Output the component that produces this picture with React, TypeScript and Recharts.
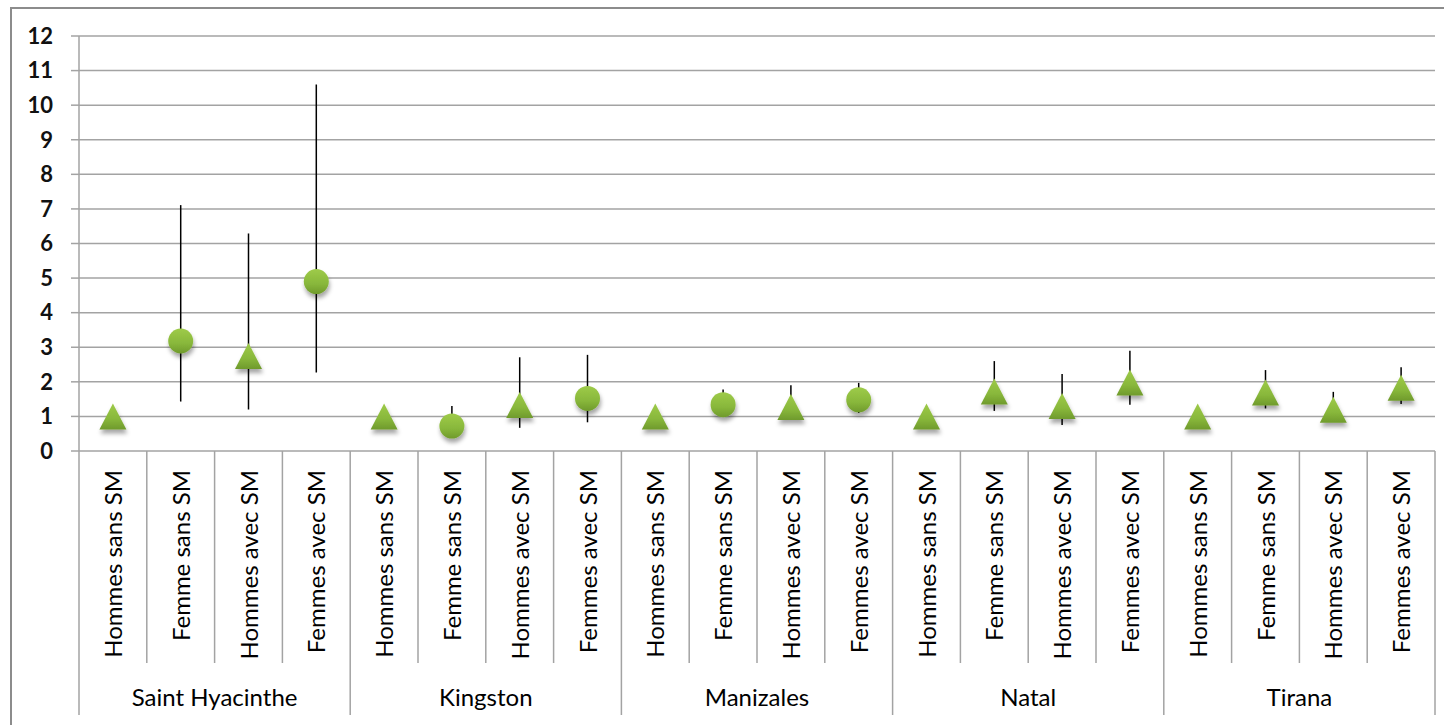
import { ComposedChart, Line, XAxis, YAxis, CartesianGrid, ErrorBar } from "recharts";

const cities = ["Saint Hyacinthe", "Kingston", "Manizales", "Natal", "Tirana"];
const subgroups = ["Hommes sans SM", "Femme sans SM", "Hommes avec SM", "Femmes avec SM"];

// triangle markers (null where the point is a circle)
const triangleSeries = [
  1.0, null, 2.75, null,
  1.0, null, 1.33, null,
  1.0, null, 1.27, null,
  1.0, 1.72, 1.3, 1.98,
  1.0, 1.69, 1.19, 1.83,
];
// circle markers
const circleSeries = [
  null, 3.18, null, 4.9,
  null, 0.72, null, 1.52,
  null, 1.34, null, 1.48,
  null, null, null, null,
  null, null, null, null,
];
const lowerBound = [
  null, 1.43, 1.2, 2.27,
  null, 0.45, 0.67, 0.83,
  null, 1.0, 0.9, 1.1,
  null, 1.16, 0.75, 1.34,
  null, 1.23, 0.85, 1.36,
];
const upperBound = [
  null, 7.11, 6.29, 10.6,
  null, 1.3, 2.71, 2.78,
  null, 1.78, 1.9, 1.97,
  null, 2.6, 2.23, 2.9,
  null, 2.34, 1.71, 2.42,
];
const yTicks = [0, 1, 2, 3, 4, 5, 6, 7, 8, 9, 10, 11, 12];

const data = triangleSeries.map((t, i) => {
  const value = t ?? circleSeries[i];
  const lo = lowerBound[i];
  const hi = upperBound[i];
  return {
    key: i,
    city: cities[Math.floor(i / 4)],
    label: subgroups[i % 4],
    value,
    isCircle: circleSeries[i] != null,
    err: lo == null || hi == null || value == null ? [0, 0] : [value - lo, hi - value],
  };
});

const W = 1444;
const H = 725;
const LEFT = 79;
const RIGHT = 9;
const TOP = 36;
const XAXIS_H = 274;
const BAND = (W - LEFT - RIGHT) / data.length;
const FONT = "Lato, 'Open Sans', sans-serif";
const GRID = "#a3a3a3";

const Marker = (props: any) => {
  const { cx, cy, payload, index } = props;
  if (cx == null || cy == null || payload?.value == null) return <g key={`m-${index}`} />;
  if (payload.isCircle) {
    return (
      <circle
        key={`m-${index}`}
        cx={cx}
        cy={cy}
        r={12.5}
        fill="url(#greenFill)"
        filter="url(#markShadow)"
      />
    );
  }
  const hw = 13.5;
  const hh = 13;
  return (
    <polygon
      key={`m-${index}`}
      points={`${cx},${cy - hh} ${cx + hw},${cy + hh} ${cx - hw},${cy + hh}`}
      fill="url(#greenFill)"
      filter="url(#markShadow)"
    />
  );
};

const CategoryTick = (props: any) => {
  const { x, y, index } = props;
  const row = data[index];
  if (!row) return null;
  const left = x - BAND / 2;
  const groupStart = index % 4 === 0;
  return (
    <g>
      <line x1={left} x2={left} y1={y} y2={y + (groupStart ? 264 : 212)} stroke={GRID} strokeWidth={1.5} />
      {index === data.length - 1 && (
        <line x1={x + BAND / 2} x2={x + BAND / 2} y1={y} y2={y + 264} stroke={GRID} strokeWidth={1.5} />
      )}
      <text
        transform={`translate(${x + 9},${y + 19}) rotate(-90)`}
        textAnchor="end"
        fontFamily={FONT}
        fontSize={24}
        fill="#000"
      >
        {row.label}
      </text>
      {groupStart && (
        <text
          x={left + BAND * 2}
          y={y + 255}
          textAnchor="middle"
          fontFamily={FONT}
          fontSize={24}
          fill="#000"
        >
          {row.city}
        </text>
      )}
    </g>
  );
};

export default function App() {
  return (
    <div style={{ position: "fixed", left: 0, top: 0, width: W, height: H, overflow: "hidden", background: "#fff" }}>
      <div
        style={{
          position: "absolute",
          left: 10,
          top: 7,
          width: W,
          height: H,
          borderLeft: "2px solid #8c8c8c",
          borderTop: "2px solid #8c8c8c",
        }}
      />
      <svg width={0} height={0} style={{ position: "absolute" }}>
        <defs>
          <linearGradient id="greenFill" x1="0" y1="0" x2="0" y2="1">
            <stop offset="0%" stopColor="#9ecb49" />
            <stop offset="60%" stopColor="#88b73b" />
            <stop offset="100%" stopColor="#6f9a2c" />
          </linearGradient>
          <filter id="markShadow" x="-50%" y="-50%" width="200%" height="200%">
            <feDropShadow dx="1" dy="4" stdDeviation="2.2" floodColor="#000" floodOpacity="0.35" />
          </filter>
        </defs>
      </svg>
      <div style={{ position: "absolute", left: 0, top: 0 }}>
        <ComposedChart width={W} height={H} data={data} margin={{ top: TOP, right: RIGHT, bottom: 0, left: 0 }}>
          <CartesianGrid vertical={false} stroke={GRID} strokeWidth={1.5} />
          <XAxis
            dataKey="key"
            type="category"
            scale="band"
            height={XAXIS_H}
            interval={0}
            tickLine={false}
            axisLine={false}
            tickSize={0}
            tickMargin={0}
            tick={<CategoryTick />}
          />
          <YAxis
            width={LEFT}
            domain={[0, 12]}
            ticks={yTicks}
            interval={0}
            tickSize={8}
            tickMargin={18}
            axisLine={{ stroke: GRID, strokeWidth: 1.5 }}
            tickLine={{ stroke: GRID, strokeWidth: 1.5 }}
            tick={{ fontFamily: FONT, fontSize: 22, fontWeight: 700, fill: "#111" }}
          />
          <Line
            dataKey="value"
            stroke="none"
            dot={Marker}
            activeDot={false}
            isAnimationActive={false}
          >
            <ErrorBar dataKey="err" direction="y" width={0} stroke="#000" strokeWidth={1.5} />
          </Line>
        </ComposedChart>
      </div>
    </div>
  );
}
